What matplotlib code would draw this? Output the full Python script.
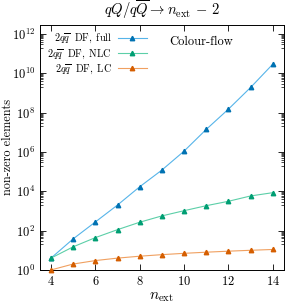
import matplotlib
matplotlib.use("Agg")
import matplotlib.pyplot as plt
import numpy as np
from matplotlib.ticker import FixedLocator, LogFormatterMathtext, NullFormatter

n_ext = [4, 5, 6, 7, 8, 9, 10, 11, 12, 13, 14]
full = [4, 38, 275, 2000, 1.7e4, 1.2e5, 1.1e6, 1.4e7, 1.5e8, 1.9e9, 2.9e10]
nlc = [4, 15, 44, 112, 267, 560, 1030, 1850, 3100, 5800, 8500]
lc = [1, 2, 3, 4, 5, 6, 7, 8, 9, 10, 11]
labels = [r"$2q\overline{q}\ \ \mathrm{DF,\ full}$", r"$2q\overline{q}\ \ \mathrm{DF,\ NLC}$",
          r"$2q\overline{q}\ \ \mathrm{DF,\ LC}$"]
xticks = [4, 6, 8, 10, 12, 14]

plt.rcParams['font.family'] = ['cmr10', 'DejaVu Serif']
plt.rcParams['mathtext.fontset'] = 'cm'
plt.rcParams['axes.formatter.use_mathtext'] = True
plt.rcParams['axes.unicode_minus'] = False

fig = plt.figure(figsize=(2.87, 3.04), dpi=100)
ax = fig.add_axes([0.139, 0.112, 0.850, 0.806])

series = [(full, '#0072B2', '#56B4E9'), (nlc, '#009E73', '#5ccfa8'), (lc, '#D55E00', '#F0A060')]
for (vals, mc, lcol), lab in zip(series, labels):
    ax.plot(n_ext, vals, color=lcol, lw=0.8, marker='^', ms=3.2, mfc=mc, mec=mc,
            label=lab, clip_on=False, zorder=3)

ax.set_yscale('log')
ax.set_xlim(3.5, 14.5)
ax.set_ylim(1, 10**12.46)
ax.xaxis.set_major_locator(FixedLocator(xticks))
ax.yaxis.set_major_locator(FixedLocator([10.0**k for k in range(0, 13, 2)]))
minor = [m * 10.0**k for k in range(-1, 12, 2) for m in range(2, 10)]
ax.yaxis.set_minor_locator(FixedLocator(minor))
ax.yaxis.set_major_formatter(LogFormatterMathtext())
ax.yaxis.set_minor_formatter(NullFormatter())
ax.tick_params(which='both', direction='in', top=True, right=True, labelsize=9)
ax.tick_params(which='major', length=4, width=0.6)
ax.tick_params(which='minor', length=2, width=0.5)
for s in ax.spines.values():
    s.set_linewidth(0.7)

ax.set_xlabel(r"$n_{\rm ext}$", fontsize=11, labelpad=2)
ax.set_ylabel("non-zero elements", fontsize=8.8)
ax.yaxis.set_label_coords(-0.108, 0.5)
ax.set_title(r"$qQ/q\overline{Q} \to n_{\rm ext}\,-\,2$", fontsize=10.5, pad=7)
ax.text(0.66, 0.955, "Colour-flow", transform=ax.transAxes, ha='center', va='top', fontsize=9)

leg = ax.legend(loc='upper left', frameon=False, markerfirst=False, fontsize=7.3,
                handlelength=2.9, borderaxespad=0.3, labelspacing=0.2, handletextpad=0.6)
for t in leg.get_texts():
    t.set_ha('right')
leg._legend_box.align = 'right'

fig.savefig('out.png', dpi=100)
